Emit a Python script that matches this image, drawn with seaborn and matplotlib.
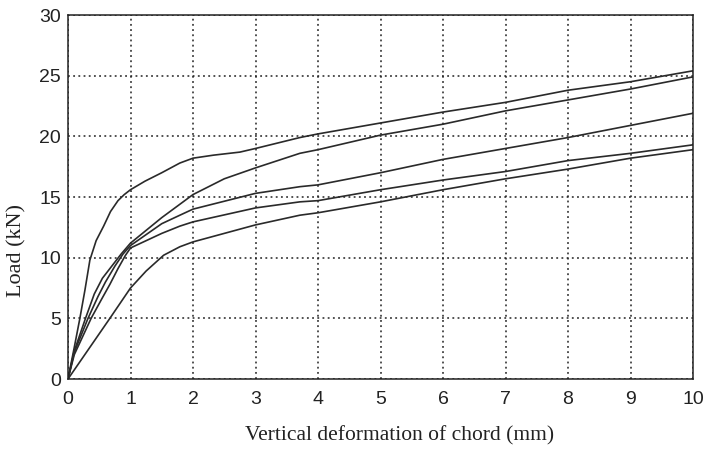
import matplotlib
matplotlib.use("Agg")
import matplotlib.pyplot as plt
import seaborn as sns
import pandas as pd

# Load-deformation curves (x in mm, y in kN)
x_a = [0.0, 0.1, 0.19, 0.27, 0.35, 0.45, 0.57, 0.68, 0.8, 0.9, 1.0, 1.23, 1.5, 1.79, 2.0, 2.33, 2.75, 3.0, 3.71, 4.0, 5.0, 6.0, 7.0, 8.0, 9.0, 10.0]
y_a = [0.0, 2.6, 5.0, 7.3, 9.8, 11.4, 12.6, 13.8, 14.7, 15.2, 15.6, 16.3, 17.0, 17.8, 18.2, 18.45, 18.7, 19.0, 19.9, 20.2, 21.1, 22.0, 22.8, 23.8, 24.5, 25.4]

x_b = [0.0, 0.1, 0.28, 0.42, 0.55, 0.7, 0.85, 1.0, 1.5, 2.0, 2.5, 3.0, 3.71, 4.0, 5.0, 6.0, 7.0, 8.0, 9.0, 10.0]
y_b = [0.0, 2.3, 5.0, 7.0, 8.3, 9.3, 10.3, 11.2, 13.3, 15.2, 16.5, 17.4, 18.6, 18.9, 20.1, 21.0, 22.1, 23.0, 23.9, 24.9]

x_c = [0.0, 0.1, 0.32, 0.48, 0.6, 0.75, 0.88, 1.0, 1.5, 1.79, 2.0, 3.0, 3.71, 4.0, 5.0, 6.0, 7.0, 8.0, 9.0, 10.0]
y_c = [0.0, 2.2, 5.0, 6.8, 8.0, 9.3, 10.3, 11.0, 12.8, 13.5, 14.0, 15.3, 15.85, 16.0, 17.0, 18.1, 19.0, 19.9, 20.9, 21.9]

x_d = [0.0, 0.1, 0.37, 0.54, 0.67, 0.8, 0.92, 1.0, 1.5, 1.79, 2.0, 3.0, 3.71, 4.0, 5.0, 6.0, 7.0, 8.0, 9.0, 10.0]
y_d = [0.0, 2.0, 5.0, 6.6, 7.8, 9.1, 10.2, 10.8, 12.0, 12.6, 12.95, 14.1, 14.6, 14.7, 15.6, 16.4, 17.1, 18.0, 18.6, 19.3]

x_e = [0.0, 0.67, 1.0, 1.25, 1.53, 1.79, 2.0, 3.0, 3.71, 4.0, 5.0, 6.0, 7.0, 8.0, 9.0, 10.0]
y_e = [0.0, 5.0, 7.5, 8.9, 10.2, 10.9, 11.3, 12.7, 13.5, 13.7, 14.6, 15.6, 16.5, 17.3, 18.2, 18.9]

series = {"A": (x_a, y_a), "B": (x_b, y_b), "C": (x_c, y_c), "D": (x_d, y_d), "E": (x_e, y_e)}

x_ticks = [0, 1, 2, 3, 4, 5, 6, 7, 8, 9, 10]
y_ticks = [0, 5, 10, 15, 20, 25, 30]
x_label = "Vertical deformation of chord (mm)"
y_label = "Load (kN)"

rows = []
for name, (xs, ys) in series.items():
    for xv, yv in zip(xs, ys):
        rows.append({"curve": name, "x": xv, "y": yv})
df = pd.DataFrame(rows)

sns.set_style("white")
plt.rcParams["font.family"] = ["Liberation Sans", "DejaVu Sans"]

fig = plt.figure(figsize=(7.07, 4.54), dpi=100)
ax = fig.add_axes([68 / 707, 1 - 379 / 454, (693 - 68) / 707, (379 - 15) / 454])

sns.lineplot(data=df, x="x", y="y", units="curve", estimator=None, sort=False,
             color="#2a2a2a", linewidth=1.2, ax=ax, legend=False)

ax.set_xlim(0, 10)
ax.set_ylim(0, 30)
ax.set_xticks(x_ticks)
ax.set_yticks(y_ticks)
ax.tick_params(axis="both", direction="out", length=4, width=1, colors="#222222",
               labelsize=14)
ax.tick_params(axis="x", pad=5)
ax.tick_params(axis="y", pad=1)
ax.grid(True, linestyle=(0, (1.2, 2.2)), color="#222222", linewidth=1.1)
for sp in ax.spines.values():
    sp.set_visible(True)
    sp.set_color("#222222")
    sp.set_linewidth(1.1)

ax.set_xlabel(x_label, fontsize=15.5, family="Liberation Serif", color="#222222")
ax.set_ylabel(y_label, fontsize=16, family="Liberation Serif", color="#222222")
ax.xaxis.set_label_coords(0.53, -0.13)
ax.yaxis.set_label_coords(-0.066, 0.354)

fig.savefig("out.png", dpi=100)
